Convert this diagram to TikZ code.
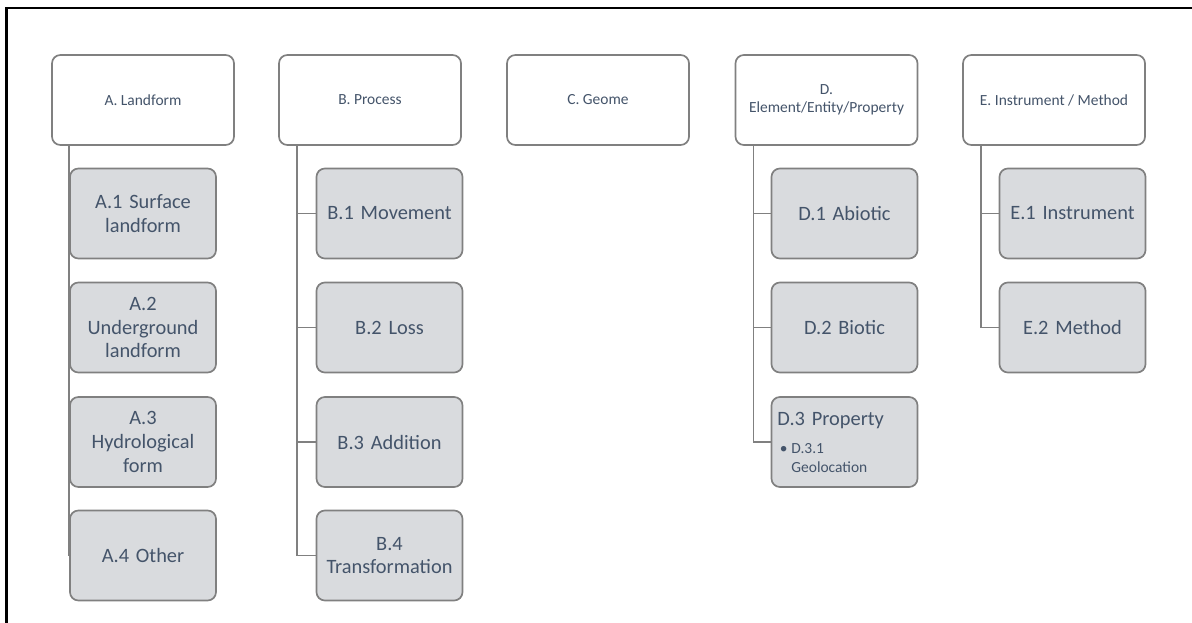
\documentclass[tikz,border=0pt]{standalone}
\usepackage{fontspec}
\setmainfont{Carlito}
\usetikzlibrary{positioning}
\definecolor{boxgray}{RGB}{217,219,222}
\definecolor{edgegray}{RGB}{128,128,128}
\definecolor{textslate}{RGB}{68,84,106}
\tikzset{
    head/.style={draw=edgegray, line width=1.2pt, rounded corners=6pt, fill=white,
        minimum width=4.55cm, minimum height=2.25cm, align=center, text=textslate,
        font=\fontsize{11}{13}\selectfont},
    leaf/.style={draw=edgegray, line width=1.2pt, rounded corners=6pt, fill=boxgray,
        minimum width=3.65cm, minimum height=2.25cm, text width=3.3cm, align=center,
        text=textslate, font=\fontsize{14.5}{17}\selectfont},
    link/.style={draw=edgegray, line width=1.2pt}
}
\begin{document}
\begin{tikzpicture}[x=0.025cm, y=-0.025cm]
            \useasboundingbox (0, 0) rectangle (1192, 623);
            \draw[line width=2pt] (6.5, 623) -- (6.5, 8) -- (1192, 8);

            % top row
            \node[head] (A) at (143, 100) {A. Landform};
            \node[head] (B) at (370, 100) {B. Process};
            \node[head] (C) at (598, 100) {C. Geome};
            \node[head] (D) at (826.5, 100) {D.\\Element/Entity/Property};
            \node[head] (E) at (1054, 100) {E. Instrument / Method};

            % landform
            \node[leaf] (A1) at (143, 213.5) {A.1 Surface landform};
            \node[leaf] (A2) at (143, 327.5) {A.2\\Underground landform};
            \node[leaf] (A3) at (143, 442) {A.3\\Hydrological form};
            \node[leaf] (A4) at (143, 555.5) {A.4 Other};

            % process
            \node[leaf] (B1) at (389.5, 213.5) {B.1 Movement};
            \node[leaf] (B2) at (389.5, 327.5) {B.2 Loss};
            \node[leaf] (B3) at (389.5, 442) {B.3 Addition};
            \node[leaf] (B4) at (389.5, 555.5) {B.4\\Transformation};

            % element / entity / property
            \node[leaf] (D1) at (844.5, 213.5) {D.1 Abiotic};
            \node[leaf] (D2) at (844.5, 327.5) {D.2 Biotic};
            \node[leaf, align=left, text width=3.35cm, inner xsep=0.15cm] (D3) at (844.5, 442)
                {D.3 Property\\[3.5pt]
                \parbox[t]{3.3cm}{\fontsize{11}{13}\selectfont\raggedright
                \hspace*{0.15em}\makebox[0.75em][l]{\textbullet}D.3.1\\
                \hspace*{0.9em}Geolocation}};

            % instrument / method
            \node[leaf] (E1) at (1072.5, 213.5) {E.1 Instrument};
            \node[leaf] (E2) at (1072.5, 327.5) {E.2 Method};

            \draw[link] ([xshift=0.45cm]A.south west) |- (A4.west);

            \draw[link] ([xshift=0.47cm]B.south west) |- (B1.west);
            \draw[link] ([xshift=0.47cm]B.south west) |- (B2.west);
            \draw[link] ([xshift=0.47cm]B.south west) |- (B3.west);
            \draw[link] ([xshift=0.47cm]B.south west) |- (B4.west);

            \draw[link] ([xshift=0.47cm]D.south west) |- (D1.west);
            \draw[link] ([xshift=0.47cm]D.south west) |- (D2.west);
            \draw[link] ([xshift=0.47cm]D.south west) |- (D3.west);

            \draw[link] ([xshift=0.47cm]E.south west) |- (E1.west);
            \draw[link] ([xshift=0.47cm]E.south west) |- (E2.west);
\end{tikzpicture}
\end{document}
